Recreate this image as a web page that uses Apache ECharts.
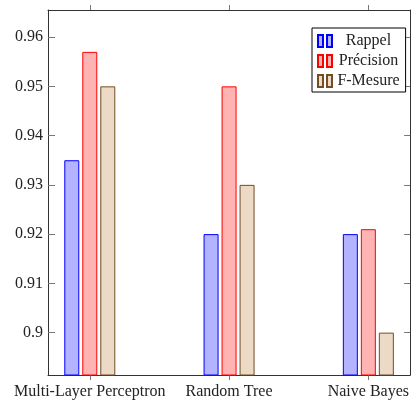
<!DOCTYPE html>
<html>
<head>
<meta charset="utf-8">
<script src="https://cdn.jsdelivr.net/npm/echarts@6/dist/echarts.min.js"></script>
<style>html,body{margin:0;padding:0;background:#fff;}#c{width:412px;height:403px;}</style>
</head>
<body>
<div id="c"></div>
<script>
const categories = ['Multi-Layer Perceptron', 'Random Tree', 'Naive Bayes'];
const seriesNames = ['Rappel', 'Précision', 'F-Mesure'];
const rappel = [0.935, 0.920, 0.920];
const precision = [0.957, 0.950, 0.921];
const fmesure = [0.950, 0.930, 0.900];
const yTicks = [0.90, 0.91, 0.92, 0.93, 0.94, 0.95, 0.96];
const xTicks = [0, 1, 2];

const FONT = '"Liberation Serif", "Times New Roman", serif';
const chart = echarts.init(document.getElementById('c'));
const toPairs = arr => categories.map((c, i) => [i, arr[i]]);
const styles = [
  { color: '#b3b3ff', borderColor: '#0000ff' },
  { color: '#ffb3b3', borderColor: '#ff0000' },
  { color: '#ecd9c6', borderColor: '#734d26' }
];
const values = [rappel, precision, fmesure];

const axisLineStyle = { color: '#333', width: 1 };
const tickStyle = { color: '#777', width: 1 };

chart.setOption({
  animation: false,
  backgroundColor: '#fff',
  grid: { left: 48, top: 10, right: -1, bottom: 28, containLabel: false },
  xAxis: [
    {
      type: 'value', min: -0.3, max: 2.3, position: 'bottom',
      splitLine: { show: false },
      axisLine: { show: true, onZero: false, lineStyle: axisLineStyle },
      axisTick: { show: true, inside: false, length: 5, customValues: xTicks, lineStyle: tickStyle },
      axisLabel: {
        customValues: xTicks, margin: 9,
        formatter: v => categories[Math.round(v)] || '',
        color: '#222', fontFamily: FONT, fontSize: 16
      }
    },
    {
      type: 'value', min: -0.3, max: 2.3, position: 'top',
      splitLine: { show: false },
      axisLine: { show: true, onZero: false, lineStyle: axisLineStyle },
      axisTick: { show: true, inside: false, length: 5, customValues: xTicks, lineStyle: tickStyle },
      axisLabel: { show: false }
    }
  ],
  yAxis: [
    {
      type: 'value', min: 0.8914, max: 0.9655, position: 'left',
      splitLine: { show: false },
      axisLine: { show: true, onZero: false, lineStyle: axisLineStyle },
      axisTick: { show: true, inside: true, length: 7, customValues: yTicks, lineStyle: tickStyle },
      axisLabel: {
        customValues: yTicks, margin: 5,
        formatter: v => String(Math.round(v * 100) / 100),
        color: '#222', fontFamily: FONT, fontSize: 16
      }
    },
    {
      type: 'value', min: 0.8914, max: 0.9655, position: 'right',
      splitLine: { show: false },
      axisLine: { show: true, onZero: false, lineStyle: axisLineStyle },
      axisTick: { show: true, inside: true, length: 6, customValues: yTicks, lineStyle: tickStyle },
      axisLabel: { show: false }
    }
  ],
  legend: {
    orient: 'vertical', left: 312, top: 28,
    padding: [5, 6, 3, 5], itemGap: 4, itemWidth: 15, itemHeight: 12,
    backgroundColor: '#fff', borderColor: '#000', borderWidth: 1, borderRadius: 0,
    icon: 'path://M0,0h5v12h-5zM9,0h5v12h-5z',
    data: seriesNames,
    formatter: n => '{t|' + n + '}',
    textStyle: {
      color: '#222', fontFamily: FONT, fontSize: 16, lineHeight: 16,
      rich: { t: { width: 62, align: 'center', fontFamily: FONT, fontSize: 16, lineHeight: 16, color: '#222' } }
    }
  },
  series: seriesNames.map((n, k) => ({
    name: n, type: 'bar', xAxisIndex: 0, yAxisIndex: 0,
    barWidth: 15, barGap: '20%',
    data: toPairs(values[k]),
    itemStyle: { color: styles[k].color, borderColor: styles[k].borderColor, borderWidth: 1 }
  }))
});
</script>
</body>
</html>
